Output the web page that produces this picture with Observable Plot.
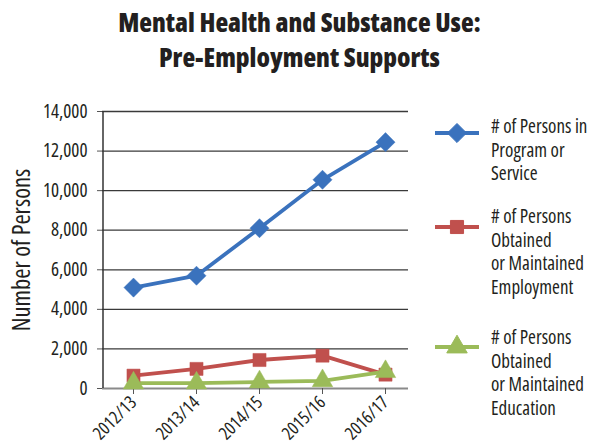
<!DOCTYPE html>
<html>
<head>
<meta charset="utf-8">
<script src="https://cdn.jsdelivr.net/npm/d3@7"></script>
<script src="https://cdn.jsdelivr.net/npm/@observablehq/plot@0.6"></script>
<style>
  html, body { margin: 0; padding: 0; background: #fff; }
  body { width: 592px; height: 446px; overflow: hidden; position: relative;
         font-family: "Open Sans", sans-serif; font-stretch: 75%; color: #231f20; }
  svg, svg text { font-stretch: 75% !important; }
  #title { position: absolute; left: 0; top: 5px; width: 599px; text-align: center;
           font-weight: 800; font-size: 26.2px; line-height: 35px; }
  #chart { position: absolute; left: 0; top: 90px; }
  #legend { position: absolute; left: 432px; top: 0; }
  .item { position: absolute; left: 0; width: 170px; }
  .item svg { position: absolute; left: 0; }
  .item .lab { position: absolute; left: 59px; font-size: 19px; line-height: 23.5px; white-space: nowrap; }
</style>
</head>
<body>
<div id="title">Mental Health and Substance Use:<br>Pre-Employment Supports</div>
<div id="chart"></div>
<div id="legend"></div>
<script>
const years = ["2012/13", "2013/14", "2014/15", "2015/16", "2016/17"];
const personsInProgram = [5100, 5700, 8100, 10550, 12450];
const obtainedEmployment = [650, 990, 1440, 1660, 700];
const obtainedEducation = [270, 270, 330, 390, 850];
const yTicks = [0, 2000, 4000, 6000, 8000, 10000, 12000, 14000];
const seriesNames = [
  ["# of Persons in", "Program or", "Service"],
  ["# of Persons", "Obtained", "or Maintained", "Employment"],
  ["# of Persons", "Obtained", "or Maintained", "Education"]
];
const seriesColors = ["#3a72bd", "#c0504d", "#9bbb59"];
const seriesSymbols = ["diamond2", "square", "triangle"];

const seriesValues = [personsInProgram, obtainedEmployment, obtainedEducation];
const data = seriesValues.flatMap((vals, s) =>
  vals.map((v, i) => ({series: s, year: years[i], value: v})));

const font = '"Open Sans", sans-serif';
const symR = [8.6, 7.4, 7.6];

const chart = Plot.plot({
  width: 592,
  height: 356,
  marginLeft: 102,
  marginRight: 184,
  marginTop: 21,
  marginBottom: 58,
  style: {fontFamily: font, fontSize: "18px", color: "#231f20", background: "transparent"},
  x: {type: "point", domain: years, range: [132.7, 385], padding: 0},
  y: {domain: [0, 14000], ticks: yTicks},
  marks: [
    Plot.ruleY(yTicks.filter(d => d > 0), {stroke: "#3a3a3a", strokeWidth: 1.3, strokeOpacity: 1}),
    Plot.ruleY([0], {stroke: "#8a8a8a", strokeWidth: 2}),
    Plot.ruleX([years[0]], {dx: -30.5, stroke: "#333", strokeWidth: 1.5}),
    Plot.axisY({ticks: yTicks, tickFormat: d3.format(","), tickSize: 5, tickPadding: 10,
                stroke: "#555", fontSize: 19, label: "Number of Persons", labelAnchor: "center",
                labelArrow: "none", labelOffset: 90, fontFamily: font}),
    Plot.axisX({tickSize: 6, tickPadding: 5, tickRotate: -45, stroke: "#555", fontSize: 18,
                label: null, fontFamily: font}),
    Plot.line(data, {x: "year", y: "value", z: "series",
                     stroke: d => seriesColors[d.series], strokeWidth: 3.8}),
    ...seriesSymbols.map((sym, s) =>
      Plot.dot(data.filter(d => d.series === s), {x: "year", y: "value", symbol: () => sym,
               r: symR[s], fill: seriesColors[s], stroke: seriesColors[s], strokeWidth: 0.5}))
  ]
});
chart.querySelectorAll("g[aria-label='y-axis label'] text").forEach(t => {
  t.style.fontSize = "24.5px";
});
document.getElementById("chart").appendChild(chart);

const legend = document.getElementById("legend");
const itemTops = [127, 217, 338];
const markerYs = [133, 227, 347];
seriesNames.forEach((lines, s) => {
  const item = document.createElement("div");
  item.className = "item";
  item.style.top = "0px";
  const sym = d3.symbol(s === 0 ? d3.symbolDiamond2 : s === 1 ? d3.symbolSquare : d3.symbolTriangle,
                        Math.PI * symR[s] * symR[s])();
  const svgNS = "http://www.w3.org/2000/svg";
  const svg = document.createElementNS(svgNS, "svg");
  svg.setAttribute("width", 50); svg.setAttribute("height", 24);
  svg.style.top = (markerYs[s] - 12) + "px";
  const ln = document.createElementNS(svgNS, "line");
  ln.setAttribute("x1", 3); ln.setAttribute("x2", 47); ln.setAttribute("y1", 12); ln.setAttribute("y2", 12);
  ln.setAttribute("stroke", seriesColors[s]); ln.setAttribute("stroke-width", 3.8);
  svg.appendChild(ln);
  const p = document.createElementNS(svgNS, "path");
  p.setAttribute("d", sym); p.setAttribute("transform", "translate(25,12)");
  p.setAttribute("fill", seriesColors[s]); p.setAttribute("stroke", seriesColors[s]);
  svg.appendChild(p);
  item.appendChild(svg);
  const lab = document.createElement("div");
  lab.className = "lab";
  lab.style.top = (itemTops[s] - 11.75) + "px";
  lab.innerHTML = lines.join("<br>");
  item.appendChild(lab);
  legend.appendChild(item);
});
</script>
</body>
</html>
